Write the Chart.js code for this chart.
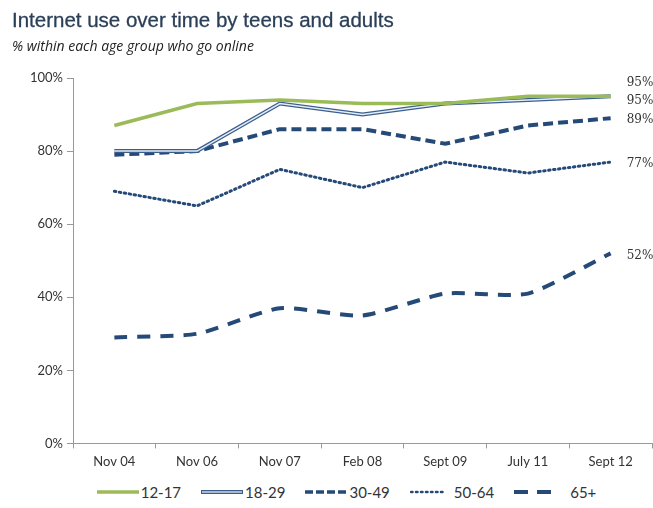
<!DOCTYPE html>
<html>
<head>
<meta charset="utf-8">
<script src="https://cdn.jsdelivr.net/npm/chart.js@4.4.1/dist/chart.umd.min.js"></script>
<style>
    body { margin: 0; background: #fff; width: 653px; height: 508px; overflow: hidden; position: relative; }
    #title { position: absolute; left: 12px; top: 8px; font-family: 'Liberation Sans', Arial, sans-serif; font-size: 20.5px; color: #2a3f58; -webkit-text-stroke: 0.3px #2a3f58; }
    #subtitle { position: absolute; left: 12px; top: 36px; font-family: 'Open Sans', sans-serif; font-style: italic; font-size: 14px; color: #222; }
    #wrap { position: absolute; left: 0; top: 0; width: 653px; height: 476px; }
    #legend { position: absolute; left: 20px; top: 483px; width: 653px; display: flex; justify-content: center; }
</style>
</head>
<body>
<div id="wrap"><canvas id="chart"></canvas></div>
<div id="title">Internet use over time by teens and adults</div>
<div id="subtitle">% within each age group who go online</div>
<div id="legend"></div>
<script>
    const periods = ['Nov 04', 'Nov 06', 'Nov 07', 'Feb 08', 'Sept 09', 'July 11', 'Sept 12'];
    const teens = [87, 93, 94, 93, 93, 95, 95];
    const age18to29 = [80, 80, 93, 90, 93, 94, 95];
    const age30to49 = [79, 80, 86, 86, 82, 87, 89];
    const age50to64 = [69, 65, 75, 70, 77, 74, 77];
    const age65plus = [29, 30, 37, 35, 41, 41, 52];
    const yTicks = [0, 20, 40, 60, 80, 100];

    const navy = '#254a78';
    const green = '#9bbb59';

    // подписи справа от последних точек
    const endLabelPlugin = {
        id: 'endLabels',
        afterDatasetsDraw(chart) {
            const ctx = chart.ctx;
            const x = chart.scales.x.getPixelForValue(periods.length - 1) + 16;
            const y = chart.scales.y;
            const items = [
                [teens, -13],
                [age18to29, 5],
                [age30to49, 2],
                [age50to64, 2],
                [age65plus, 2],
            ];
            ctx.save();
            ctx.font = '12px "DejaVu Serif", serif';
            ctx.fillStyle = '#333';
            ctx.textBaseline = 'middle';
            items.forEach(([arr, dy]) => {
                const v = arr[arr.length - 1];
                ctx.fillText(v + '%', x, y.getPixelForValue(v) + dy);
            });
            ctx.restore();
        }
    };

    const base = {fill: false, pointRadius: 0, borderCapStyle: 'butt', order: 2};

    new Chart(document.getElementById('chart'), {
        type: 'line',
        data: {
            labels: periods,
            datasets: [
                {...base, label: '12-17', data: teens, borderColor: green, borderWidth: 3.5, order: 0},
                {...base, label: '18-29', data: age18to29, borderColor: '#3a5f8f', borderWidth: 4, order: 1},
                {...base, label: '18-29 inner', data: age18to29, borderColor: '#e6edf6', borderWidth: 1.5, order: 0.5},
                {...base, label: '30-49', data: age30to49, borderColor: navy, borderWidth: 4, borderDash: [10, 5]},
                {...base, label: '50-64', data: age50to64, borderColor: navy, borderWidth: 3, borderDash: [1.5, 3.5], borderCapStyle: 'round'},
                {...base, label: '65+', data: age65plus, borderColor: navy, borderWidth: 4, borderDash: [13, 10], tension: 0.2},
            ]
        },
        options: {
            responsive: true,
            maintainAspectRatio: false,
            animation: false,
            layout: {padding: {top: 78, right: 1, left: 0, bottom: 0}},
            plugins: {
                legend: {display: false},
                tooltip: {enabled: false},
            },
            scales: {
                x: {
                    offset: true,
                    grid: {display: true, drawOnChartArea: false, offset: true, tickLength: 5, color: '#999'},
                    border: {color: '#999'},
                    ticks: {font: {family: 'Lato', size: 13}, color: '#333', padding: 6},
                },
                y: {
                    min: 0,
                    max: 100,
                    afterFit(scale) { scale.width = 73; },
                    afterBuildTicks(scale) { scale.ticks = yTicks.map(v => ({value: v})); },
                    grid: {display: true, drawOnChartArea: false, tickLength: 6, color: '#999'},
                    border: {color: '#999'},
                    ticks: {font: {family: 'Lato', size: 13}, color: '#333', padding: 4, callback: v => v + '%'},
                }
            }
        },
        plugins: [endLabelPlugin],
    });

    // легенда
    const legendItems = [
        {text: '12-17', svg: '<line x1="0" y1="5" x2="42" y2="5" stroke="' + green + '" stroke-width="3.5"/>'},
        {text: '18-29', svg: '<line x1="0" y1="5" x2="42" y2="5" stroke="#3a5f8f" stroke-width="4"/><line x1="1" y1="5" x2="41" y2="5" stroke="#c9d6e6" stroke-width="1.6"/>'},
        {text: '30-49', svg: '<line x1="0" y1="5" x2="42" y2="5" stroke="' + navy + '" stroke-width="3.5" stroke-dasharray="8 3"/>'},
        {text: '50-64', svg: '<line x1="1" y1="5" x2="34" y2="5" stroke="' + navy + '" stroke-width="2.5" stroke-dasharray="1.5 3.5" stroke-linecap="round"/>'},
        {text: '65+', svg: '<line x1="0" y1="5" x2="42" y2="5" stroke="' + navy + '" stroke-width="4" stroke-dasharray="14 9"/>'},
    ];
    const legend = document.getElementById('legend');
    legendItems.forEach(item => {
        const li = document.createElement('div');
        li.style.display = 'flex';
        li.style.alignItems = 'center';
        li.style.margin = '0 10px';
        li.innerHTML = '<svg width="42" height="10">' + item.svg + '</svg>';
        const t = document.createElement('span');
        t.textContent = item.text;
        t.style.fontFamily = 'Lato, sans-serif';
        t.style.fontSize = '15px';
        t.style.color = '#333';
        t.style.marginLeft = item.text === '65+' ? '14px' : '2px';
        li.appendChild(t);
        legend.appendChild(li);
    });
</script>
</body>
</html>
